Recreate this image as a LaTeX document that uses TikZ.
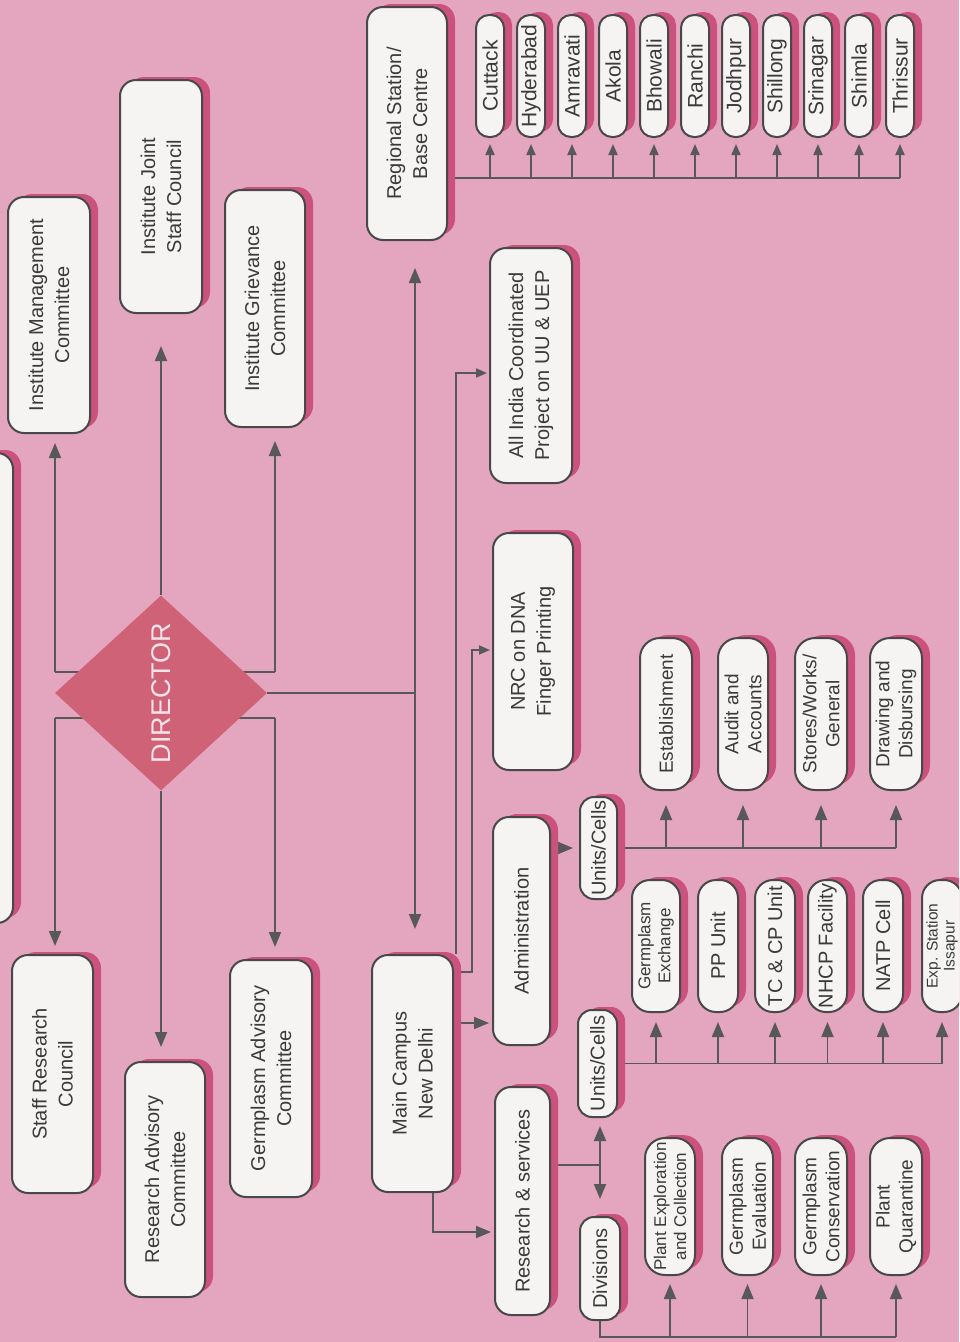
\documentclass[tikz,border=0pt]{standalone}
\usepackage{fontspec}
\setmainfont{Liberation Sans}
\usetikzlibrary{shapes.geometric,arrows.meta}
\definecolor{bgc}{RGB}{227,166,190}
\definecolor{shadowc}{RGB}{204,82,126}
\definecolor{boxc}{RGB}{246,243,243}
\definecolor{bordc}{RGB}{72,72,72}
\definecolor{textc}{RGB}{58,58,58}
\definecolor{linec}{RGB}{88,88,88}
\definecolor{dirc}{RGB}{208,98,120}
\pgfdeclarelayer{lines}
\pgfsetlayers{lines,main}
\tikzset{
  box/.style={draw=bordc, line width=2pt, fill=boxc, rotate=90, align=center,
    inner sep=0pt, text=textc, font=\fontsize{20}{26}\selectfont},
  sta/.style={font=\fontsize{21}{24}\selectfont},
  unitf/.style={font=\fontsize{19}{23}\selectfont},
  smallf/.style={font=\fontsize{17}{20}\selectfont},
  tinyf/.style={font=\fontsize{15.5}{17}\selectfont},
  ln/.style={draw=linec, line width=1.8pt},
  arr/.style={ln, -{Triangle[length=15pt,width=12pt]}},
  arrs/.style={ln, -{Triangle[length=11pt,width=9pt]}},
}
% [opts]{name}{x1}{y1}{x2}{y2}{radius}{text}
\newcommand\mybox[8][]{%
  \pgfmathsetmacro\bxw{(#5)-(#3)}%
  \pgfmathsetmacro\bxh{(#6)-(#4)}%
  \pgfmathsetmacro\bxcx{((#3)+(#5))/2}%
  \pgfmathsetmacro\bxcy{((#4)+(#6))/2}%
  \fill[shadowc, rounded corners=#7] ({(#3)+8},{(#4)-3}) rectangle ({(#5)+8},{(#6)-5});
  \node[box, rounded corners=#7, minimum width=\bxh pt, minimum height=\bxw pt, #1] (#2) at (\bxcx,\bxcy) {#8};
}
\begin{document}
\begin{tikzpicture}[x=1pt,y=-1pt]
\useasboundingbox (0,0) rectangle (959,1342);
\begin{pgfonlayer}{lines}
\fill[bgc] (0,0) rectangle (959,1342);
\end{pgfonlayer}
\clip (0,0) rectangle (959,1342);

% partial box at left edge
\mybox{lb}{-60}{453}{13}{923}{16pt}{}

% committees
\mybox{imc}{8}{197}{90}{433}{16pt}{Institute Management\\Committee}
\mybox{ijsc}{120}{80}{202}{313}{16pt}{Institute Joint\\Staff Council}
\mybox{igc}{225}{190}{305}{427}{16pt}{Institute Grievance\\Committee}
\mybox{rs}{367}{7}{447}{240}{16pt}{Regional Station/\\Base Centre}
\mybox{src}{12}{955}{93}{1193}{16pt}{Staff Research\\Council}
\mybox{rac}{125}{1062}{205}{1297}{16pt}{Research Advisory\\Committee}
\mybox{gac}{230}{960}{312}{1197}{16pt}{Germplasm Advisory\\Committee}
\mybox{mc}{372}{955}{453}{1192}{16pt}{Main Campus\\New Delhi}

% stations
\foreach \nm [count=\i] in {Cuttack,Hyderabad,Amravati,Akola,Bhowali,Ranchi,Jodhpur,Shillong,Srinagar,Shimla,Thrissur}{
  \pgfmathsetmacro\scx{490+41*(\i-1)}
  \mybox[sta]{st\i}{\scx-14}{15}{\scx+14}{137}{13pt}{\nm}
}

% campus units
\mybox{aicp}{490}{248}{572}{483}{16pt}{All India Coordinated\\Project on UU \& UEP}
\mybox{nrc}{493}{533}{573}{770}{16pt}{NRC on DNA\\Finger Printing}
\mybox{adm}{493}{817}{550}{1045}{16pt}{Administration}
\mybox{rns}{495}{1087}{550}{1315}{16pt}{Research \& services}
\mybox{uc1}{580}{797}{617}{899}{14pt}{Units/Cells}
\mybox{uc2}{578}{1010}{617}{1117}{14pt}{Units/Cells}
\mybox{dv}{580}{1217}{620}{1320}{14pt}{Divisions}

% administration units
\mybox[unitf]{est}{640}{638}{692}{790}{20pt}{Establishment}
\mybox[unitf]{aa}{718}{638}{768}{790}{20pt}{Audit and\\Accounts}
\mybox[unitf]{sw}{795}{638}{847}{790}{20pt}{Stores/Works/\\General}
\mybox[unitf]{dd}{870}{638}{922}{790}{20pt}{Drawing and\\Disbursing}

% research units
\mybox[smallf]{ge}{632}{880}{680}{1012}{18pt}{Germplasm\\Exchange}
\mybox{pp}{698}{880}{738}{1012}{18pt}{PP Unit}
\mybox{tc}{755}{880}{795}{1012}{18pt}{TC \& CP Unit}
\mybox{nh}{808}{880}{847}{1012}{18pt}{NHCP Facility}
\mybox{na}{863}{880}{903}{1012}{18pt}{NATP Cell}
\mybox[tinyf]{ex}{922}{880}{962}{1012}{18pt}{Exp. Station\\Issapur}

% divisions
\mybox[smallf]{pec}{645}{1138}{695}{1275}{20pt}{Plant Exploration\\and Collection}
\mybox[unitf]{gev}{722}{1138}{773}{1275}{20pt}{Germplasm\\Evaluation}
\mybox[unitf]{gc}{795}{1138}{847}{1275}{20pt}{Germplasm\\Conservation}
\mybox[unitf]{pq}{870}{1138}{922}{1275}{20pt}{Plant\\Quarantine}

% director
\node[diamond, fill=dirc, rotate=90, minimum width=195pt, minimum height=212pt,
  inner sep=0pt, text={rgb,255:red,248;green,228;blue,234},
  font=\fontsize{27}{30}\selectfont] (dir) at (161,693) {DIRECTOR};

\begin{pgfonlayer}{lines}
% director connectors
\coordinate (jl1) at (55,672); \coordinate (jr1) at (275,672);
\coordinate (jl2) at (55,718); \coordinate (jr2) at (275,718);
\draw[ln] (jl1) -- (jr1);
\draw[ln] (jl2) -- (jr2);
\draw[arr, shorten >=9pt] (jl1) -- (jl1 |- imc.west);
\draw[arr, shorten >=13pt] (jr1) -- (jr1 |- igc.west);
\draw[arr, shorten >=8pt] (jl2) -- (jl2 |- src.east);
\draw[arr, shorten >=12pt] (jr2) -- (jr2 |- gac.east);
\draw[arr, shorten >=32pt] (dir.east) -- (dir.east |- ijsc.west);
\draw[arr, shorten >=14pt] (dir.west) -- (dir.west |- rac.east);
\coordinate (jm) at (415,693);
\draw[ln] (dir.south) -- (jm);
\draw[arr, shorten >=27pt] (jm) -- (jm |- rs.west);
\draw[arr, shorten >=25pt] (jm) -- (jm |- mc.east);

% stations bus
\coordinate (sbus) at (0,178);
\draw[ln] (rs.south |- sbus) -- (sbus -| st11);
\foreach \i in {1,...,11}{
  \draw[arrs, shorten >=6pt] (sbus -| st\i) -- (st\i.west);
}

% main campus connectors
\coordinate (ya) at (0,1023);
\draw[arr, shorten >=3pt] (mc.south |- ya) -- (adm.north |- ya);
\coordinate (yb) at (433,1232);
\draw[arr, shorten >=3pt] (mc.west -| yb) |- (rns.north |- yb);
\coordinate (q0) at (472,972); \coordinate (q1) at (472,650);
\draw[arrs, shorten >=2pt] (mc.south |- q0) -- (q0) -- (q1) -- (nrc.north |- q1);
\coordinate (r1) at (456,373);
\draw[arrs, shorten >=2pt] (mc.east -| r1) -- (r1) -- (aicp.north |- r1);

% administration
\draw[arr, shorten >=6pt] (adm.south |- uc1) -- (uc1.north);
\draw[ln] (uc1.south) -- (uc1.south -| dd);
\foreach \n in {est,aa,sw,dd}{
  \draw[arr, shorten >=14pt] (uc1.south -| \n) -- (\n.west);
}

% research & services
\coordinate (kk) at (600,1165);
\draw[ln] (rns.south |- kk) -- (kk);
\draw[arr, shorten >=8pt] (kk) -- (kk |- uc2.west);
\draw[arr, shorten >=17pt] (kk) -- (kk |- dv.east);
\draw[ln] (uc2.south) -- (uc2.south -| ex);
\foreach \n in {ge,pp,tc,nh,na,ex}{
  \draw[arr, shorten >=9pt] (uc2.south -| \n) -- (\n.west);
}
\coordinate (dbus) at (0,1337);
\draw[ln] (dv.west) -- (dv.west |- dbus) -- (dbus -| pq);
\foreach \n in {pec,gev,gc,pq}{
  \draw[arr, shorten >=8pt] (dbus -| \n) -- (\n.west);
}
\end{pgfonlayer}
\end{tikzpicture}
\end{document}
